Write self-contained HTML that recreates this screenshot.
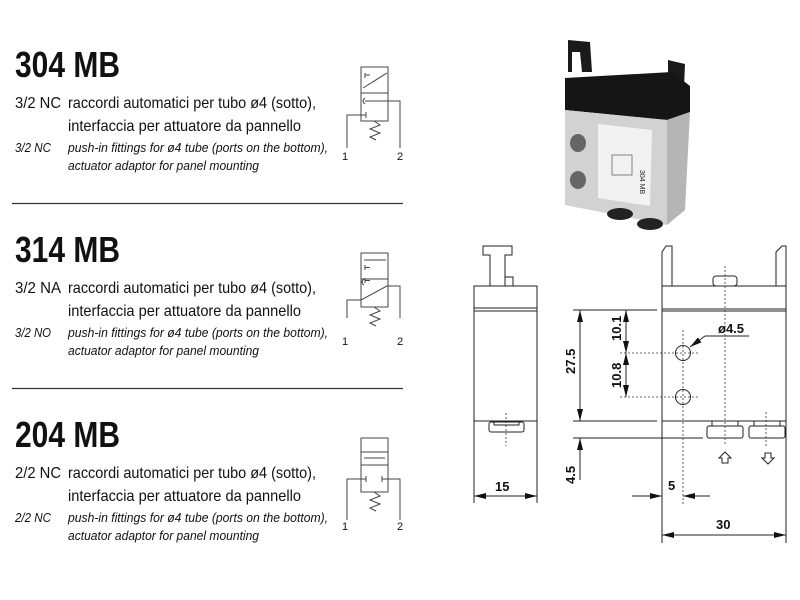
<!DOCTYPE html>
<html><head><meta charset="utf-8"><style>
html,body{margin:0;padding:0;background:#fff;}
svg{display:block;}
.t{font-family:"Liberation Sans",sans-serif;fill:#111;}
.ln{stroke:#222;fill:none;stroke-width:1;}
.sy{stroke:#444;fill:none;stroke-width:1;}
.dd{stroke:#333;fill:none;stroke-width:0.8;stroke-dasharray:2,2;}
</style></head><body>
<svg width="800" height="600" viewBox="0 0 800 600" xmlns="http://www.w3.org/2000/svg">
<defs>
<marker id="ar" markerWidth="12" markerHeight="6" refX="12" refY="3" orient="auto-start-reverse" markerUnits="userSpaceOnUse"><path d="M0,0 L12,3 L0,6 z" fill="#111"/></marker>
</defs>

<g id="s1">
<text class="t" x="15" y="77" font-size="36" font-weight="bold" textLength="105" lengthAdjust="spacingAndGlyphs">304 MB</text>
<text class="t" x="15" y="108" font-size="16" textLength="46" lengthAdjust="spacingAndGlyphs">3/2 NC</text>
<text class="t" x="68" y="108" font-size="16" textLength="248" lengthAdjust="spacingAndGlyphs">raccordi automatici per tubo ø4 (sotto),</text>
<text class="t" x="68" y="131" font-size="16" textLength="233" lengthAdjust="spacingAndGlyphs">interfaccia per attuatore da pannello</text>
<text class="t" x="15" y="152" font-size="13" font-style="italic" textLength="36" lengthAdjust="spacingAndGlyphs">3/2 NC</text>
<text class="t" x="68" y="152" font-size="13" font-style="italic" textLength="260" lengthAdjust="spacingAndGlyphs">push-in fittings for ø4 tube (ports on the bottom),</text>
<text class="t" x="68" y="170" font-size="13" font-style="italic" textLength="191" lengthAdjust="spacingAndGlyphs">actuator adaptor for panel mounting</text>
</g>
<g transform="translate(0,185)">
<text class="t" x="15" y="77" font-size="36" font-weight="bold" textLength="105" lengthAdjust="spacingAndGlyphs">314 MB</text>
<text class="t" x="15" y="108" font-size="16" textLength="46" lengthAdjust="spacingAndGlyphs">3/2 NA</text>
<text class="t" x="68" y="108" font-size="16" textLength="248" lengthAdjust="spacingAndGlyphs">raccordi automatici per tubo ø4 (sotto),</text>
<text class="t" x="68" y="131" font-size="16" textLength="233" lengthAdjust="spacingAndGlyphs">interfaccia per attuatore da pannello</text>
<text class="t" x="15" y="152" font-size="13" font-style="italic" textLength="36" lengthAdjust="spacingAndGlyphs">3/2 NO</text>
<text class="t" x="68" y="152" font-size="13" font-style="italic" textLength="260" lengthAdjust="spacingAndGlyphs">push-in fittings for ø4 tube (ports on the bottom),</text>
<text class="t" x="68" y="170" font-size="13" font-style="italic" textLength="191" lengthAdjust="spacingAndGlyphs">actuator adaptor for panel mounting</text>
</g>
<g transform="translate(0,370)">
<text class="t" x="15" y="77" font-size="36" font-weight="bold" textLength="105" lengthAdjust="spacingAndGlyphs">204 MB</text>
<text class="t" x="15" y="108" font-size="16" textLength="46" lengthAdjust="spacingAndGlyphs">2/2 NC</text>
<text class="t" x="68" y="108" font-size="16" textLength="248" lengthAdjust="spacingAndGlyphs">raccordi automatici per tubo ø4 (sotto),</text>
<text class="t" x="68" y="131" font-size="16" textLength="233" lengthAdjust="spacingAndGlyphs">interfaccia per attuatore da pannello</text>
<text class="t" x="15" y="152" font-size="13" font-style="italic" textLength="36" lengthAdjust="spacingAndGlyphs">2/2 NC</text>
<text class="t" x="68" y="152" font-size="13" font-style="italic" textLength="260" lengthAdjust="spacingAndGlyphs">push-in fittings for ø4 tube (ports on the bottom),</text>
<text class="t" x="68" y="170" font-size="13" font-style="italic" textLength="191" lengthAdjust="spacingAndGlyphs">actuator adaptor for panel mounting</text>
</g>
<line x1="12" y1="203.5" x2="403" y2="203.5" stroke="#333" stroke-width="1.2"/>
<line x1="12" y1="388.5" x2="403" y2="388.5" stroke="#333" stroke-width="1.2"/>

<g class="sy">
<rect x="361" y="67" width="27" height="26"/><rect x="361" y="93" width="27" height="28"/>
<line x1="363" y1="88" x2="387" y2="73"/><line x1="365" y1="73" x2="365" y2="78"/>
<line x1="365" y1="75" x2="370" y2="75"/>
<path d="M347,148 V115 H366 M366,112 V118"/>
<path d="M400,148 V101 H365"/>
<path d="M365,98 q-4,3 0,6"/>
<path d="M374,121 l6,4 -10,4 10,4 -10,4 6,3"/>
</g>
<text class="t" x="342" y="160" font-size="11">1</text><text class="t" x="397" y="160" font-size="11">2</text>

<g class="sy">
<rect x="361" y="253" width="27" height="26"/><rect x="361" y="279" width="27" height="28"/>
<line x1="364" y1="260" x2="386" y2="260"/>
<path d="M365,270 v-5 M365,267.5 h5"/>
<path d="M365,283 v-5 M365,280.5 h5"/>
<path d="M364,279 q-4,3 0,6"/>
<path d="M347,318 V300 H361 L387,286 H400 V318"/>
<path d="M374,307 l6,4 -10,4 10,4 -10,4 6,3"/>
</g>
<text class="t" x="342" y="345" font-size="11">1</text><text class="t" x="397" y="345" font-size="11">2</text>

<g class="sy">
<rect x="361" y="438" width="27" height="14"/><rect x="361" y="452" width="27" height="13"/><rect x="361" y="465" width="27" height="27"/>
<line x1="364" y1="458" x2="385" y2="458"/>
<path d="M347,520 V479 H366 M366,476 V482"/>
<path d="M400,520 V479 H382 M382,476 V482"/>
<path d="M374,492 l6,4 -10,4 10,4 -10,4 6,3"/>
</g>
<text class="t" x="342" y="530" font-size="11">1</text><text class="t" x="397" y="530" font-size="11">2</text>

<!-- Photo -->
<g>
<path d="M568,40 L590,42 L592,72 L582,72 L580,52 L572,52 L572,72 L568,72 z" fill="#1a1a1a"/>
<path d="M668,60 L685,64 L684,88 L676,88 L674,76 L668,76 z" fill="#1a1a1a"/>
<path d="M565,78 L672,72 L690,86 L690,112 L667,120 L565,110 z" fill="#151515"/>
<path d="M565,110 L667,120 L667,225 L565,205 z" fill="#d2d2d2"/>
<path d="M667,120 L690,112 L685,210 L667,225 z" fill="#b5b5b5"/>
<path d="M598,124 L652,130 L650,206 L598,198 z" fill="#f2f2f2"/>
<ellipse cx="578" cy="143" rx="8" ry="9" fill="#666"/>
<ellipse cx="578" cy="180" rx="8" ry="9" fill="#666"/>
<rect x="612" y="155" width="20" height="20" fill="none" stroke="#666" stroke-width="0.8"/>
<text x="640" y="170" font-size="7" fill="#222" font-family="Liberation Sans" transform="rotate(90 640 170)">304 MB</text>
<ellipse cx="620" cy="214" rx="13" ry="6" fill="#222"/>
<ellipse cx="650" cy="224" rx="13" ry="6" fill="#222"/>
</g>

<!-- Side view -->
<g class="ln">
<path d="M483,246 H512 V255 H505 V286 H490 V255 H483 z"/>
<path d="M505,277 H513 V286"/>
<rect x="474" y="286" width="63" height="135"/>
<line x1="474" y1="308" x2="537" y2="308"/><line x1="474" y1="311" x2="537" y2="311"/>
<rect x="489" y="422" width="35" height="10" rx="2"/>
<rect x="494" y="421" width="25" height="4"/>
<line x1="474" y1="421" x2="474" y2="503"/><line x1="537" y1="421" x2="537" y2="503"/>
<line x1="474" y1="496" x2="537" y2="496" marker-start="url(#ar)" marker-end="url(#ar)"/>
</g>
<line class="dd" x1="506" y1="413" x2="506" y2="446"/>
<text class="t" x="495" y="491" font-size="13" font-weight="bold">15</text>

<!-- Front view -->
<g class="ln">
<path d="M662,286 V252 L666,246 L672,246 V286"/>
<path d="M776,286 V252 L782,246 L786,246 V286"/>
<rect x="662" y="286" width="124" height="135"/>
<line x1="662" y1="309" x2="786" y2="309"/><line x1="662" y1="311" x2="786" y2="311"/>
<rect x="713" y="276" width="24" height="10" rx="3"/>
<circle cx="683" cy="353" r="7.5"/><circle cx="683" cy="397" r="7.5"/>
<rect x="707" y="426" width="36" height="12" rx="2"/><rect x="712" y="421" width="26" height="5"/>
<rect x="749" y="426" width="36" height="12" rx="2"/><rect x="754" y="421" width="26" height="5"/>
<path d="M725,452 l-6,6 h3 v5 h6 v-5 h3 z"/>
<path d="M768,464 l-6,-6 h3 v-5 h6 v5 h3 z"/>
<line x1="573" y1="310" x2="657" y2="310"/>
<line x1="573" y1="421" x2="657" y2="421"/>
<line x1="573" y1="438" x2="703" y2="438"/>
<line x1="662" y1="421" x2="662" y2="543"/><line x1="786" y1="421" x2="786" y2="543"/>
<line x1="580" y1="310" x2="580" y2="421" marker-start="url(#ar)" marker-end="url(#ar)"/>
<line x1="580" y1="480" x2="580" y2="438" marker-end="url(#ar)"/>
<line x1="626" y1="310" x2="626" y2="353" marker-start="url(#ar)" marker-end="url(#ar)"/>
<line x1="626" y1="353" x2="626" y2="397" marker-start="url(#ar)" marker-end="url(#ar)"/>
<line x1="632" y1="496" x2="662" y2="496" marker-end="url(#ar)"/>
<line x1="710" y1="496" x2="683" y2="496" marker-end="url(#ar)"/>
<line x1="662" y1="535" x2="786" y2="535" marker-start="url(#ar)" marker-end="url(#ar)"/>
<line x1="749" y1="336" x2="705" y2="336"/>
<line x1="705" y1="336" x2="690" y2="347" marker-end="url(#ar)"/>
</g>
<g class="dd">
<line x1="620" y1="353" x2="700" y2="353"/><line x1="620" y1="397" x2="700" y2="397"/>
<line x1="683" y1="330" x2="683" y2="505"/>
<line x1="725" y1="266" x2="725" y2="446"/>
<line x1="766" y1="412" x2="766" y2="446"/>
</g>
<text class="t" x="718" y="333" font-size="13" font-weight="bold">ø4.5</text>
<text class="t" font-size="13" font-weight="bold" transform="translate(575,374) rotate(-90)">27.5</text>
<text class="t" font-size="13" font-weight="bold" transform="translate(621,341) rotate(-90)">10.1</text>
<text class="t" font-size="13" font-weight="bold" transform="translate(621,388) rotate(-90)">10.8</text>
<text class="t" font-size="13" font-weight="bold" transform="translate(575,484) rotate(-90)">4.5</text>
<text class="t" x="668" y="490" font-size="13" font-weight="bold">5</text>
<text class="t" x="716" y="529" font-size="13" font-weight="bold">30</text>
</svg>
</body></html>
